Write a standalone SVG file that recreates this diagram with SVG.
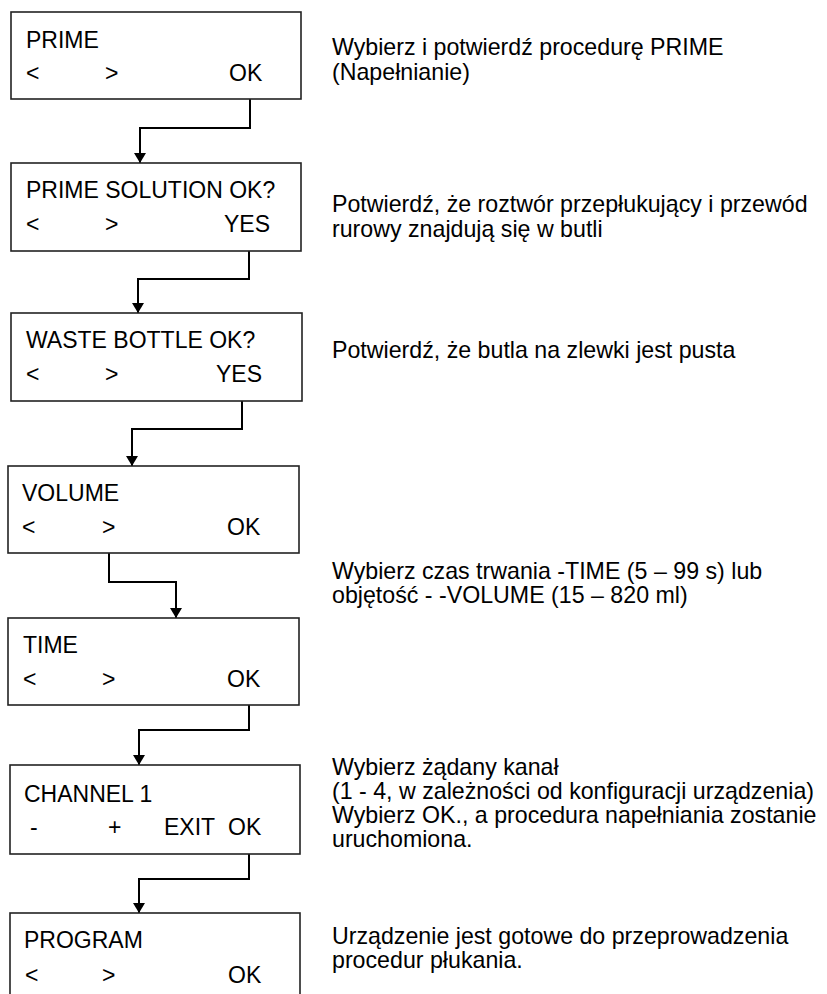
<svg xmlns="http://www.w3.org/2000/svg" width="827" height="994" viewBox="0 0 827 994">
  <defs>
    <marker id="arrow" markerUnits="userSpaceOnUse" markerWidth="10" markerHeight="12" viewBox="0 0 10 12" refX="10" refY="6" orient="auto">
      <path d="M0,0 L10,6 L0,12 z" fill="#000"/>
    </marker>
    <style>
      .box { fill: #fff; stroke: #222; stroke-width: 1.6; }
      .lcd { font-family: "Liberation Sans", Arial, sans-serif; font-size: 23px; fill: #000; }
      .desc { font-family: "Liberation Sans", Arial, sans-serif; font-size: 23.2px; fill: #000; }
      .conn { fill: none; stroke: #000; stroke-width: 2; marker-end: url(#arrow); }
    </style>
  </defs>
  <rect width="827" height="994" fill="#fff"/>

  <!-- connectors between display screens -->
  <g id="connectors">
    <path class="conn" d="M250,99 V128 H140 V163"/>
    <path class="conn" d="M249,251 V279 H138 V313"/>
    <path class="conn" d="M242,401 V429 H132 V466"/>
    <path class="conn" d="M109,553 V582 H176 V618"/>
    <path class="conn" d="M249,702 V730 H139 V765"/>
    <path class="conn" d="M249,851 V879 H139 V913"/>
  </g>

  <!-- display screens -->
  <g id="screen-prime">
    <rect class="box" x="11" y="12" width="290" height="87"/>
    <text class="lcd" x="26" y="48">PRIME</text>
    <text class="lcd" x="26" y="81">&lt;</text>
    <text class="lcd" x="105" y="81">&gt;</text>
    <text class="lcd" x="229" y="81">OK</text>
  </g>
  <g id="screen-solution">
    <rect class="box" x="11" y="163" width="290" height="88"/>
    <text class="lcd" x="26" y="198">PRIME SOLUTION OK?</text>
    <text class="lcd" x="26" y="232">&lt;</text>
    <text class="lcd" x="105" y="232">&gt;</text>
    <text class="lcd" x="224" y="232">YES</text>
  </g>
  <g id="screen-waste">
    <rect class="box" x="11" y="313" width="291" height="88"/>
    <text class="lcd" x="26" y="348">WASTE BOTTLE OK?</text>
    <text class="lcd" x="26" y="382">&lt;</text>
    <text class="lcd" x="105" y="382">&gt;</text>
    <text class="lcd" x="216" y="382">YES</text>
  </g>
  <g id="screen-volume">
    <rect class="box" x="8" y="466" width="291" height="87"/>
    <text class="lcd" x="22" y="501">VOLUME</text>
    <text class="lcd" x="22" y="535">&lt;</text>
    <text class="lcd" x="102" y="535">&gt;</text>
    <text class="lcd" x="227" y="535">OK</text>
  </g>
  <g id="screen-time">
    <rect class="box" x="8" y="618" width="291" height="87"/>
    <text class="lcd" x="23" y="653">TIME</text>
    <text class="lcd" x="23" y="687">&lt;</text>
    <text class="lcd" x="102" y="687">&gt;</text>
    <text class="lcd" x="227" y="687">OK</text>
  </g>
  <g id="screen-channel">
    <rect class="box" x="10" y="765" width="290" height="89"/>
    <text class="lcd" x="24" y="802">CHANNEL 1</text>
    <text class="lcd" x="30" y="835">-</text>
    <text class="lcd" x="108" y="835">+</text>
    <text class="lcd" x="164" y="835">EXIT</text>
    <text class="lcd" x="228" y="835">OK</text>
  </g>
  <g id="screen-program">
    <rect class="box" x="10" y="913" width="290" height="100"/>
    <text class="lcd" x="24" y="948">PROGRAM</text>
    <text class="lcd" x="25" y="983">&lt;</text>
    <text class="lcd" x="102" y="983">&gt;</text>
    <text class="lcd" x="228" y="983">OK</text>
  </g>

  <!-- step descriptions -->
  <g id="descriptions">
    <text class="desc" x="332" y="55">Wybierz i potwierdź procedurę PRIME</text>
    <text class="desc" x="332" y="80">(Napełnianie)</text>
    <text class="desc" x="332" y="212">Potwierdź, że roztwór przepłukujący i przewód</text>
    <text class="desc" x="332" y="237">rurowy znajdują się w butli</text>
    <text class="desc" x="332" y="358">Potwierdź, że butla na zlewki jest pusta</text>
    <text class="desc" x="332" y="579">Wybierz czas trwania -TIME (5 – 99 s) lub</text>
    <text class="desc" x="332" y="603">objętość - -VOLUME (15 – 820 ml)</text>
    <text class="desc" x="332" y="775">Wybierz żądany kanał</text>
    <text class="desc" x="332" y="799">(1 - 4, w zależności od konfiguracji urządzenia)</text>
    <text class="desc" x="332" y="823">Wybierz OK., a procedura napełniania zostanie</text>
    <text class="desc" x="332" y="847">uruchomiona.</text>
    <text class="desc" x="332" y="944">Urządzenie jest gotowe do przeprowadzenia</text>
    <text class="desc" x="332" y="968">procedur płukania.</text>
  </g>
</svg>
